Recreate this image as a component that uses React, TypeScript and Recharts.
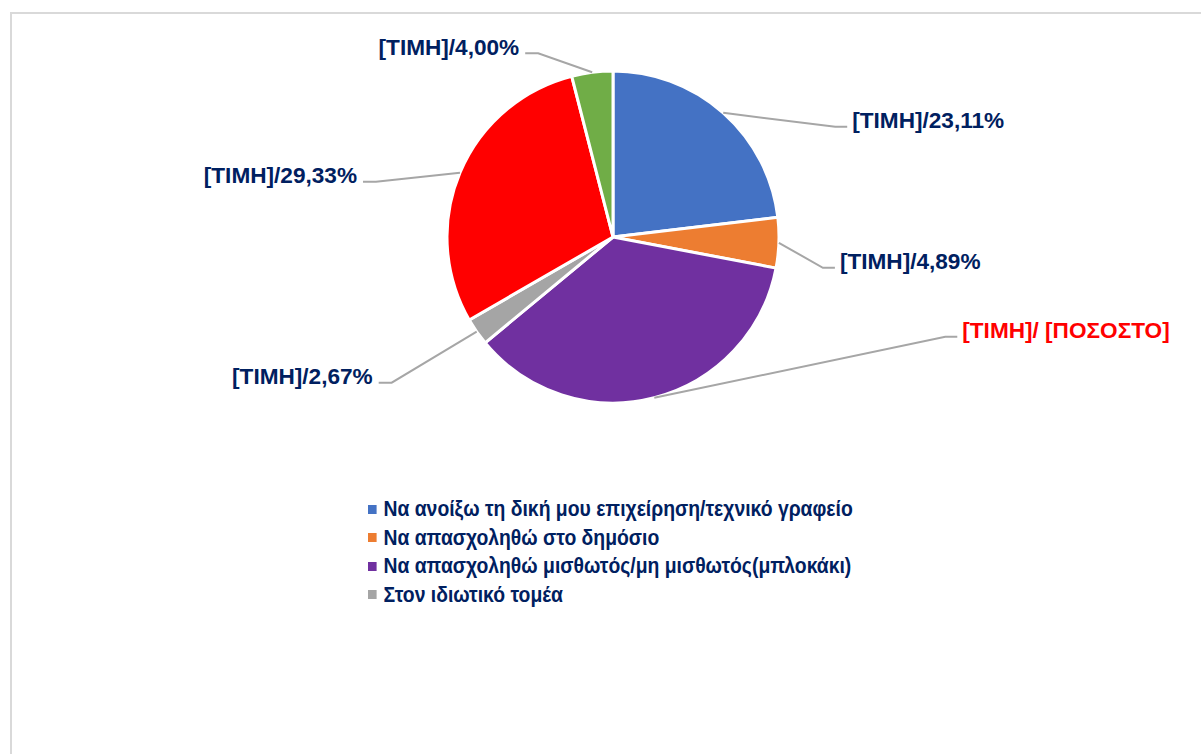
import React from "react";
import { PieChart, Pie, Cell } from "recharts";

const CATEGORIES = [
  "Να ανοίξω τη δική μου επιχείρηση/τεχνικό γραφείο",
  "Να απασχοληθώ στο δημόσιο",
  "Να απασχοληθώ μισθωτός/μη μισθωτός(μπλοκάκι)",
  "Στον ιδιωτικό τομέα",
  "Άλλο",
  "Δεν γνωρίζω",
];
const VALUES = [23.11, 4.89, 36.0, 2.67, 29.33, 4.0];
const LABELS = [
  "[ΤΙΜΗ]/23,11%",
  "[ΤΙΜΗ]/4,89%",
  "[ΤΙΜΗ]/ [ΠΟΣΟΣΤΟ]",
  "[ΤΙΜΗ]/2,67%",
  "[ΤΙΜΗ]/29,33%",
  "[ΤΙΜΗ]/4,00%",
];
const LEGEND_COUNT = 4; // only the first four entries fit in the legend box

const COLORS = ["#4472C4", "#ED7D31", "#7030A0", "#A5A5A5", "#FF0000", "#70AD47"];
const LABEL_COLORS = ["#002060", "#002060", "#FF0000", "#002060", "#002060", "#002060"];
// elbow offset of each leader line, relative to the slice edge point
const ELBOWS: [number, number][] = [
  [112, 14], [44, 25], [291, -61], [-85, 51], [-84, 9], [-54, -19],
];

const FONT = "'Liberation Sans', Arial, sans-serif";
const RAD = Math.PI / 180;

const data = CATEGORIES.map((name, i) => ({ name, value: VALUES[i] }));

function renderLabel(props: any) {
  const { cx, cy, midAngle, outerRadius, index } = props;
  const sx = cx + outerRadius * Math.cos(-midAngle * RAD);
  const sy = cy + outerRadius * Math.sin(-midAngle * RAD);
  const [dx, dy] = ELBOWS[index];
  const ex = sx + dx;
  const ey = sy + dy;
  const right = dx > 0;
  const tx = ex + (right ? 12 : -13);
  return (
    <g key={`lbl-${index}`}>
      <polyline
        points={`${sx},${sy} ${ex},${ey} ${tx},${ey}`}
        fill="none"
        stroke="#A6A6A6"
        strokeWidth={2}
      />
      <text
        x={tx + (right ? 5 : -6)}
        y={ey - 6}
        textAnchor={right ? "start" : "end"}
        dominantBaseline="central"
        fill={LABEL_COLORS[index]}
        fontFamily={FONT}
        fontWeight="bold"
        fontSize={22.6}
      >
        {LABELS[index]}
      </text>
    </g>
  );
}

function ChartLegend() {
  return (
    <div
      style={{
        position: "absolute",
        left: 368,
        top: 495,
        fontFamily: FONT,
        fontWeight: "bold",
        fontSize: 22.5,
        color: "#002060",
        transform: "scaleX(0.86)",
        transformOrigin: "left top",
        whiteSpace: "nowrap",
      }}
    >
      {CATEGORIES.slice(0, LEGEND_COUNT).map((name, i) => (
        <div key={name} style={{ display: "flex", alignItems: "center", height: 28.5 }}>
          <span
            style={{
              display: "inline-block",
              width: 10,
              height: 9,
              background: COLORS[i],
              marginRight: 8,
            }}
          />
          <span>{name}</span>
        </div>
      ))}
    </div>
  );
}

export default function App() {
  return (
    <div style={{ position: "relative", width: 1201, height: 754, overflow: "hidden", background: "#fff" }}>
      <style>{`body{margin:0}`}</style>
      <div
        style={{
          position: "absolute",
          left: 10,
          top: 12,
          width: 1210,
          height: 770,
          border: "2px solid #D9D9D9",
        }}
      />
      <div style={{ position: "absolute", left: 0, top: 0 }}>
        <PieChart width={1201} height={754} margin={{ top: 0, right: 0, bottom: 0, left: 0 }}>
          <Pie
            data={data}
            dataKey="value"
            nameKey="name"
            cx={613}
            cy={237}
            outerRadius={166}
            startAngle={90}
            endAngle={-270}
            stroke="#FFFFFF"
            strokeWidth={3}
            label={renderLabel}
            labelLine={false}
            isAnimationActive={false}
          >
            {data.map((_, i) => (
              <Cell key={i} fill={COLORS[i]} />
            ))}
          </Pie>
        </PieChart>
      </div>
      <ChartLegend />
    </div>
  );
}
